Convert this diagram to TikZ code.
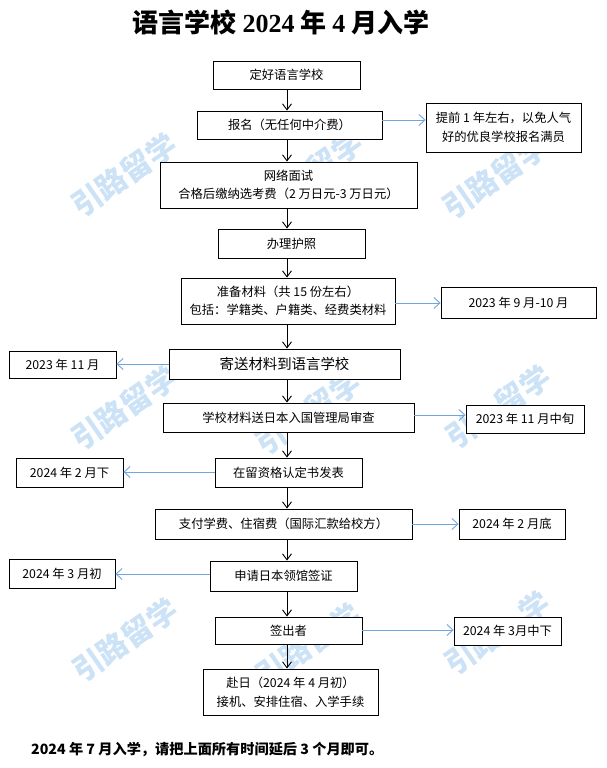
\documentclass[tikz,border=0pt]{standalone}
\usepackage{fontspec}
\setmainfont{Noto Sans CJK SC}
\newfontfamily\titleserif{Liberation Serif}
\usetikzlibrary{arrows.meta}
\definecolor{arrowblue}{RGB}{112,166,220}
\definecolor{wmblue}{RGB}{204,226,246}
\begin{document}
\begin{tikzpicture}[x=1pt,y=-1pt,
  box/.style={draw=black, line width=0.9pt, fill=white, inner sep=0pt, align=center, font=\fontsize{12.3}{18.5}\selectfont},
  blk/.style={draw=black, line width=0.9pt, -{Straight Barb[length=6pt,width=9pt]}},
  blu/.style={draw=arrowblue, line width=0.9pt, -{Straight Barb[length=6pt,width=11pt]}},
  wm/.style={text=wmblue, inner sep=0pt, font=\fontsize{30}{30}\selectfont\bfseries, rotate=35}
]
\useasboundingbox (0,0) rectangle (606,768);
\fill[white] (0,0) rectangle (606,768);
% watermarks (one rotated glyph per node; glyphs wholly hidden behind boxes are left out)
\foreach \wx/\wy/\sa/\sb [count=\i] in {124/175/0/0,310/173/1/2,495/177/0/0,124/408/0/0,308/413/2/0,498/407/2/0,125/640/0/0,308/645/0/0,497/633/3/0}{
  \foreach \ch [count=\k] in {引,路,留,学}{
    \ifnum\k=\sa\relax\else\ifnum\k=\sb\relax\else
      \node[wm] (wm\i-\k) at ({\wx+(\k-2.5)*24.6},{\wy-(\k-2.5)*17.2}) {\ch};
    \fi\fi
  }
}
% title
\node[inner sep=0pt, font=\fontsize{26}{26}\selectfont\bfseries] (title) at (281,22) {语言学校 {\titleserif 2024} 年 {\titleserif 4} 月入学};
% main boxes
\node[box, minimum width=147pt, minimum height=28pt] (b1) at (286.5,75) {定好语言学校};
\node[box, minimum width=185pt, minimum height=28pt] (b2) at (289.5,125) {报名（无任何中介费）};
\node[box, minimum width=257pt, minimum height=46pt] (b3) at (288.5,185) {网络面试\\合格后缴纳选考费（2 万日元-3 万日元）};
\node[box, minimum width=147pt, minimum height=29pt] (b4) at (291.5,243.5) {办理护照};
\node[box, minimum width=214pt, minimum height=46pt] (b5) at (288,301) {准备材料（共 15 份左右）\\包括：学籍类、户籍类、经费类材料};
\node[box, minimum width=231pt, minimum height=30pt, font=\fontsize{14.4}{17}\selectfont] (b6) at (284.5,364) {寄送材料到语言学校};
\node[box, minimum width=251pt, minimum height=29pt] (b7) at (288.5,417.5) {学校材料送日本入国管理局审查};
\node[box, minimum width=147pt, minimum height=29pt] (b8) at (288.5,472.5) {在留资格认定书发表};
\node[box, minimum width=257pt, minimum height=30pt] (b9) at (283.5,524) {支付学费、住宿费（国际汇款给校方）};
\node[box, minimum width=147pt, minimum height=30pt] (b10) at (283.5,576) {申请日本领馆签证};
\node[box, minimum width=147pt, minimum height=27pt] (b11) at (288.5,630.5) {签出者};
\node[box, minimum width=175pt, minimum height=46pt] (b12) at (290.5,692) {赴日（2024 年 4 月初）\\接机、安排住宿、入学手续};
% side boxes
\node[box, minimum width=155pt, minimum height=49pt] (s1) at (503.5,127.5) {提前 1 年左右，以免人气\\好的优良学校报名满员};
\node[box, minimum width=155pt, minimum height=31pt] (s5) at (518.5,302.5) {2023 年 9 月-10 月};
\node[box, minimum width=107pt, minimum height=27pt] (s6) at (62.5,364.5) {2023 年 11 月};
\node[box, minimum width=118pt, minimum height=28pt] (s7) at (525,419) {2023 年 11 月中旬};
\node[box, minimum width=107pt, minimum height=29pt] (s8) at (69.5,472.5) {2024 年 2 月下};
\node[box, minimum width=106pt, minimum height=30pt] (s9) at (512,524) {2024 年 2 月底};
\node[box, minimum width=106pt, minimum height=29pt] (s10) at (62,573.5) {2024 年 3 月初};
\node[box, minimum width=107pt, minimum height=28pt] (s11) at (507.5,631) {2024 年 3月中下};
% footer
\node[anchor=west, inner sep=0pt, font=\fontsize{14.2}{14}\selectfont\bfseries] (foot) at (31,749.5) {2024 年 7 月入学，请把上面所有时间延后 3 个月即可。};
% vertical arrows
\coordinate (ax) at (287,0);
\foreach \a/\b in {b1/b2,b2/b3,b3/b4,b4/b5,b5/b6,b6/b7,b7/b8,b8/b9,b9/b10,b10/b11,b11/b12}{
  \draw[blk] (\a.south -| ax) -- (\b.north -| ax);
}
% side arrows
\draw[blu] (b2.east |- 0,120) -- (s1.west |- 0,120);
\draw[blu] (b5.east |- 0,303) -- (s5.west |- 0,303);
\draw[blu] (b6.west |- 0,364) -- (s6.east |- 0,364);
\draw[blu] (b7.east |- 0,415) -- (s7.west |- 0,415);
\draw[blu] (b8.west |- 0,472) -- (s8.east |- 0,472);
\draw[blu] (b9.east |- 0,524) -- (s9.west |- 0,524);
\draw[blu] (b10.west |- 0,574) -- (s10.east |- 0,574);
\draw[blu] (b11.east |- 0,630) -- (s11.west |- 0,630);
\end{tikzpicture}
\end{document}
